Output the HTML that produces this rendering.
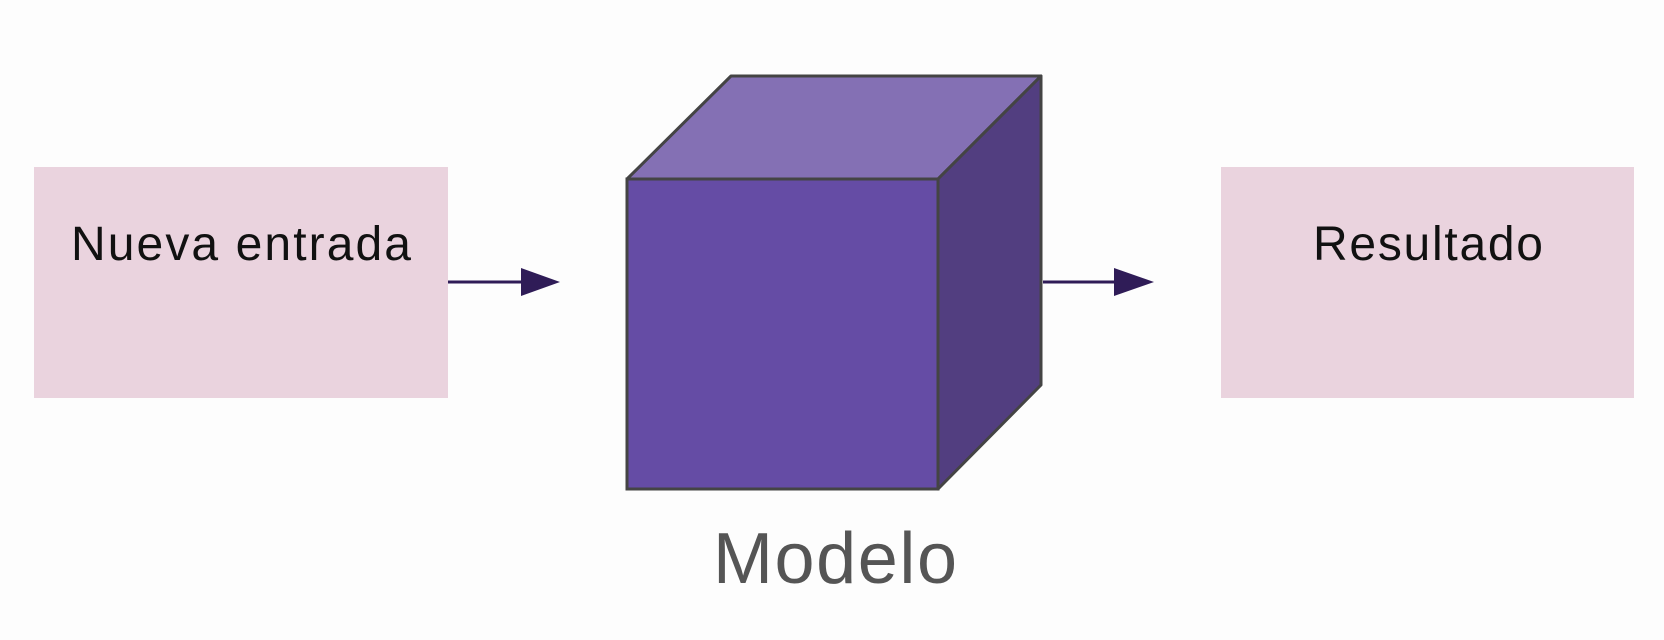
<!DOCTYPE html>
<html><head><meta charset="utf-8"><style>
html,body{margin:0;padding:0;background:#fdfdfd;}
svg{display:block}
</style></head><body>
<svg width="1664" height="640" viewBox="0 0 1664 640" xmlns="http://www.w3.org/2000/svg">
<rect width="1664" height="640" fill="#fdfdfd"/>
<rect x="34" y="167" width="414" height="231" fill="#ead3de"/>
<rect x="1221" y="167" width="413" height="231" fill="#ead3de"/>
<text x="241" y="260" font-family="Liberation Sans, sans-serif" font-size="48" text-anchor="middle" fill="#111" textLength="340" lengthAdjust="spacing">Nueva entrada</text>
<text x="1428" y="260" font-family="Liberation Sans, sans-serif" font-size="48" text-anchor="middle" fill="#111" textLength="230" lengthAdjust="spacing">Resultado</text>
<line x1="448" y1="282" x2="524" y2="282" stroke="#2f1c57" stroke-width="3"/>
<polygon points="521,268 560,282 521,296" fill="#2f1c57"/>
<line x1="1043" y1="282" x2="1116" y2="282" stroke="#2f1c57" stroke-width="3"/>
<polygon points="1114,268 1154,282 1114,296" fill="#2f1c57"/>
<polygon points="627,179 731,76 1041,76 938,179" fill="#8470b4" stroke="#444" stroke-width="3" stroke-linejoin="round"/>
<polygon points="938,179 1041,76 1041,385 938,489" fill="#523e80" stroke="#444" stroke-width="3" stroke-linejoin="round"/>
<rect x="627" y="179" width="311" height="310" fill="#654ca5" stroke="#444" stroke-width="3"/>
<text x="835" y="583" font-family="Liberation Sans, sans-serif" font-size="72" text-anchor="middle" fill="#555" textLength="244" lengthAdjust="spacing">Modelo</text>
</svg>
</body></html>
